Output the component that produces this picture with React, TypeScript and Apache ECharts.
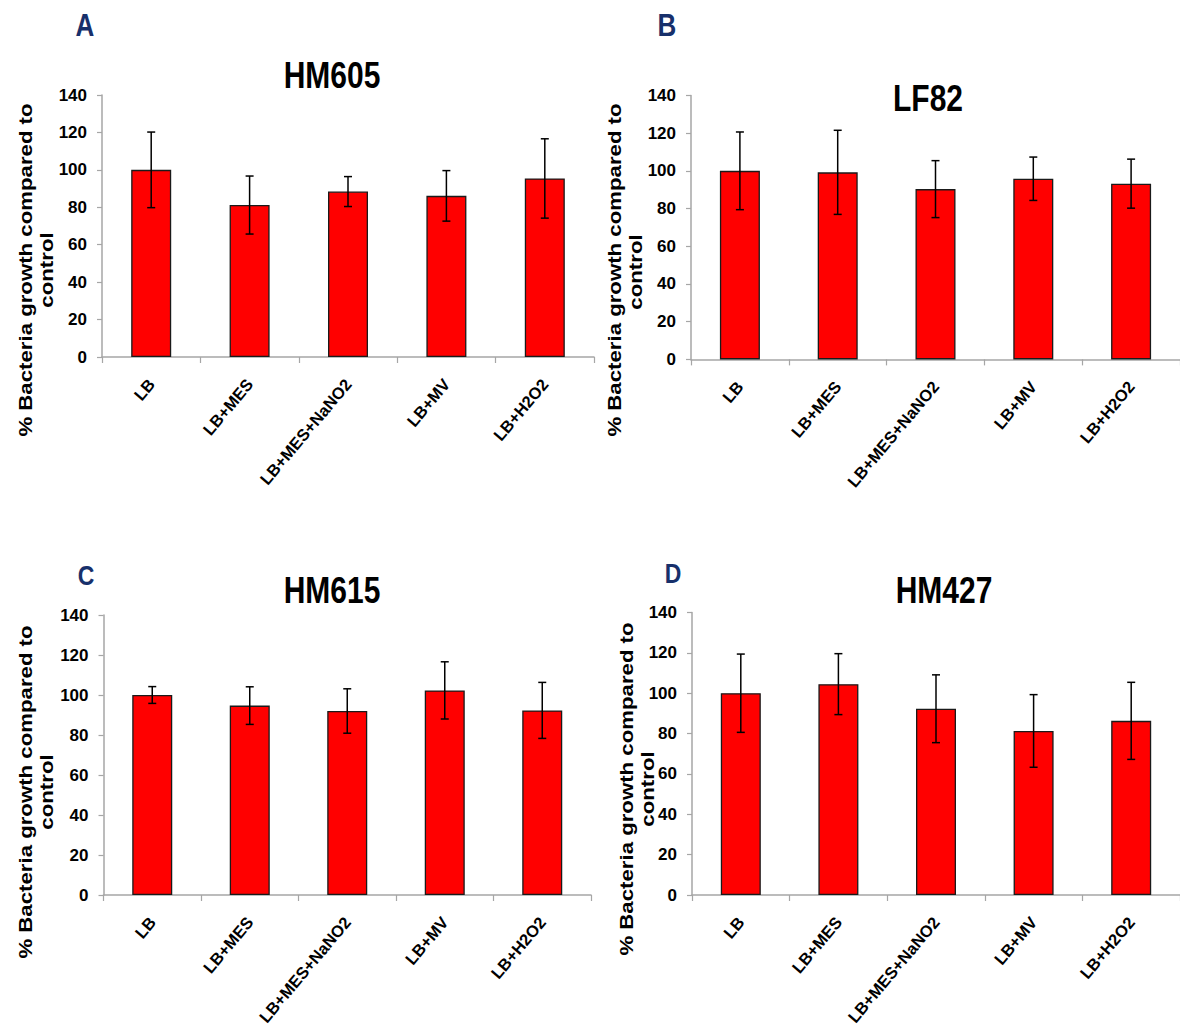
import React, { useEffect, useRef } from "react";
import * as echarts from "echarts";

const categories = ["LB", "LB+MES", "LB+MES+NaNO2", "LB+MV", "LB+H2O2"];
const yTicks = [0, 20, 40, 60, 80, 100, 120, 140];

const hm605Means = [100, 81.2, 88.4, 86.1, 95.4];
const hm605Err = [20.2, 15.5, 8.0, 13.5, 21.2];
const lf82Means = [100, 99.2, 90.3, 95.8, 93.2];
const lf82Err = [20.6, 22.3, 15.1, 11.5, 13.0];
const hm615Means = [100, 94.7, 92.0, 102.3, 92.3];
const hm615Err = [4.2, 9.4, 11.1, 14.3, 14.0];
const hm427Means = [100, 104.5, 92.3, 81.3, 86.3];
const hm427Err = [19.4, 15.1, 16.8, 18.0, 19.1];

const panelTitles = ["HM605", "LF82", "HM615", "HM427"];
const panelLetters = ["A", "B", "C", "D"];
const yNameLines = ["% Bacteria growth compared to", "control"];

const panels = [
  { means: hm605Means, err: hm605Err },
  { means: lf82Means, err: lf82Err },
  { means: hm615Means, err: hm615Err },
  { means: hm427Means, err: hm427Err },
];

const grids = [
  { left: 102, top: 95, width: 492, height: 262 },
  { left: 691, top: 95.4, width: 491.5, height: 264 },
  { left: 103.5, top: 615, width: 487.5, height: 280 },
  { left: 692, top: 612.5, width: 490.5, height: 282.5 },
];

const titlePos = [
  [332, 76],
  [928, 99],
  [332, 591],
  [944, 591],
];
const letterPos = [
  [85, 25, 26],
  [667, 25, 26],
  [86, 575, 23],
  [673, 573, 23],
];
const yNamePos = [
  [[25, 270], [46, 270]],
  [[614, 270], [635, 272]],
  [[25, 792], [46, 792]],
  [[626, 789], [647, 789]],
];

const FONT = "'Liberation Sans', Arial, sans-serif";

export default function App() {
  const ref = useRef<HTMLDivElement>(null);
  useEffect(() => {
    document.body.style.margin = "0";
    if (!ref.current) return;
    const chart = echarts.init(ref.current, undefined, { renderer: "svg" });

    const xAxis = grids.map((_, i) => ({
      type: "category",
      gridIndex: i,
      data: categories,
      axisLine: { lineStyle: { color: "#a6a6a6", width: 1.5 } },
      axisTick: { show: true, interval: 0, length: 6, lineStyle: { color: "#a6a6a6", width: 1.2 } },
      axisLabel: {
        interval: 0,
        rotate: 50,
        margin: 24,
        color: "#000",
        fontWeight: "bold",
        fontSize: 16.5,
        fontFamily: FONT,
      },
      splitLine: { show: false },
    }));

    const yAxis = grids.map((_, i) => ({
      type: "value",
      gridIndex: i,
      min: yTicks[0],
      max: yTicks[yTicks.length - 1],
      interval: yTicks[1] - yTicks[0],
      axisLine: { show: true, lineStyle: { color: "#a6a6a6", width: 1.5 } },
      axisTick: { show: true, length: 5, lineStyle: { color: "#a6a6a6", width: 1.2 } },
      axisLabel: {
        margin: 15,
        color: "#000",
        fontWeight: "bold",
        fontSize: 17,
        fontFamily: FONT,
      },
      splitLine: { show: false },
    }));

    const series: any[] = [];
    panels.forEach((p, i) => {
      series.push({
        type: "bar",
        xAxisIndex: i,
        yAxisIndex: i,
        data: p.means,
        barWidth: 40,
        itemStyle: { color: "#ff0000", borderColor: "#1a1a1a", borderWidth: 1.3 },
        silent: true,
      });
      series.push({
        type: "custom",
        xAxisIndex: i,
        yAxisIndex: i,
        data: p.means.map((m, k) => [k, m - p.err[k], m + p.err[k]]),
        encode: { x: 0, y: [1, 2] },
        z: 10,
        silent: true,
        renderItem: (params: any, api: any) => {
          const x = api.value(0);
          const hi = api.coord([x, api.value(2)]);
          const lo = api.coord([x, api.value(1)]);
          const cap = 4;
          const st = { stroke: "#000", lineWidth: 1.5 };
          return {
            type: "group",
            children: [
              { type: "line", shape: { x1: hi[0], y1: hi[1], x2: lo[0], y2: lo[1] }, style: st },
              { type: "line", shape: { x1: hi[0] - cap, y1: hi[1], x2: hi[0] + cap, y2: hi[1] }, style: st },
              { type: "line", shape: { x1: lo[0] - cap, y1: lo[1], x2: lo[0] + cap, y2: lo[1] }, style: st },
            ],
          };
        },
      });
    });

    const graphic: any[] = [];
    panelTitles.forEach((t, i) => {
      graphic.push({
        type: "text",
        x: titlePos[i][0],
        y: titlePos[i][1],
        scaleY: 1.2,
        style: {
          text: t,
          fontSize: 30,
          fontWeight: "bold",
          fontFamily: FONT,
          fill: "#000",
          align: "center",
          verticalAlign: "middle",
          textAlign: "center",
          textVerticalAlign: "middle",
        },
      });
    });
    panelLetters.forEach((t, i) => {
      graphic.push({
        type: "text",
        x: letterPos[i][0],
        y: letterPos[i][1],
        scaleY: 1.2,
        style: {
          text: t,
          fontSize: letterPos[i][2],
          fontWeight: "bold",
          fontFamily: FONT,
          fill: "#17306b",
          align: "center",
          verticalAlign: "middle",
          textAlign: "center",
          textVerticalAlign: "middle",
        },
      });
    });
    yNamePos.forEach((pos, i) => {
      yNameLines.forEach((line, j) => {
        graphic.push({
          type: "text",
          x: pos[j][0],
          y: pos[j][1],
          rotation: Math.PI / 2,
          scaleX: 1.17,
          style: {
            text: line,
            fontSize: 19,
            fontWeight: "bold",
            fontFamily: FONT,
            fill: "#000",
            align: "center",
            verticalAlign: "middle",
            textAlign: "center",
            textVerticalAlign: "middle",
          },
        });
      });
    });

    chart.setOption({
      animation: false,
      backgroundColor: "#fff",
      grid: grids.map((g) => ({ ...g, containLabel: false })),
      xAxis,
      yAxis,
      series,
      graphic,
    });
    return () => chart.dispose();
  }, []);
  return <div ref={ref} style={{ width: 1180, height: 1034 }} />;
}
